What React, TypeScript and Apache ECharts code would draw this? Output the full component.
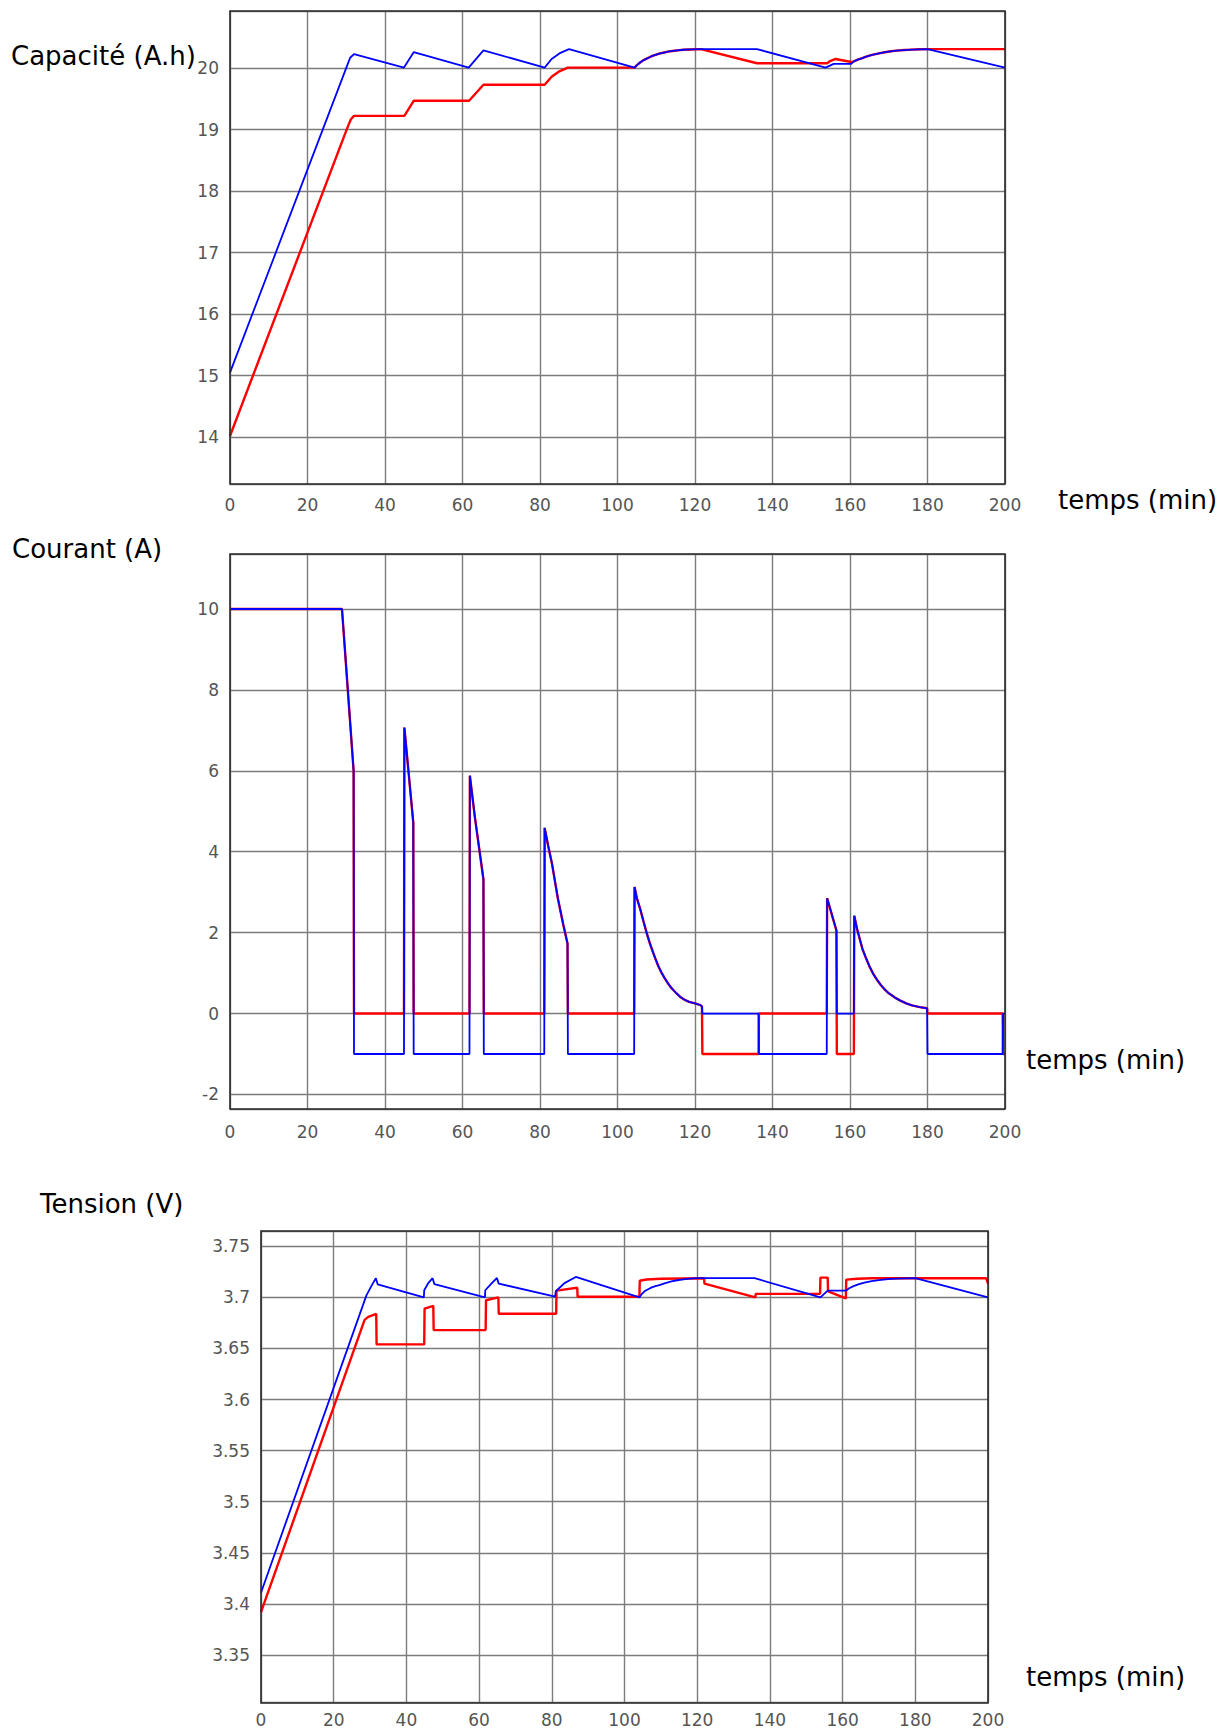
import React, { useEffect, useRef } from "react";
import * as echarts from "echarts";

// ---------- DATA (time in min, value) ----------
const xTicks = { min: 0, max: 200, step: 20 };

// Capacité (A.h)
const capRed: [number, number][] = [
  [0, 14.02], [30.4, 19.05], [31.2, 19.17], [32, 19.225], [45, 19.225], [47.4, 19.47],
  [61.7, 19.47], [65.4, 19.73], [81.2, 19.73], [83, 19.86], [85, 19.95], [87.2, 20.01],
  [104.4, 20.01], [105, 20.05], [106, 20.1], [107, 20.14], [108, 20.17], [109, 20.2],
  [110, 20.22], [111, 20.24], [112, 20.255], [113, 20.27], [114.2, 20.28], [115.5, 20.29],
  [117, 20.3], [119, 20.305], [121.5, 20.31], [136, 20.08], [154.1, 20.08], [155, 20.12],
  [156.3, 20.15], [160.3, 20.1], [161, 20.11], [162, 20.14], [163, 20.16], [164, 20.185],
  [165, 20.205], [166, 20.22], [167.5, 20.24], [169, 20.26], [170.5, 20.275], [172, 20.285],
  [174, 20.295], [176, 20.302], [178, 20.307], [180, 20.31], [200, 20.31],
];
const capBlue: [number, number][] = [
  [0, 15.05], [30.4, 20.07], [31, 20.17], [32, 20.23], [44.9, 20.01], [47.4, 20.26],
  [61.6, 20.01], [65.4, 20.29], [81.2, 20.01], [83, 20.15], [85, 20.24], [87.5, 20.31],
  [104.4, 20.01], [105, 20.05], [106, 20.1], [107, 20.14], [108, 20.17], [109, 20.2],
  [110, 20.22], [111, 20.24], [112, 20.255], [113, 20.27], [114.2, 20.28], [115.5, 20.29],
  [117, 20.3], [119, 20.305], [121.5, 20.31], [136, 20.31], [153.7, 20.01], [155.8, 20.07],
  [160.3, 20.07], [161, 20.11], [162, 20.14], [163, 20.16], [164, 20.185], [165, 20.205],
  [166, 20.22], [167.5, 20.24], [169, 20.26], [170.5, 20.275], [172, 20.285], [174, 20.295],
  [176, 20.302], [178, 20.307], [180, 20.31], [200, 20.01],
];
const capRange = { min: 13.24, max: 20.93, step: 1 };

// Courant (A)
const curRed: [number, number][] = [
  [0, 10], [28.9, 10], [30.4, 8.0], [31.9, 6.0], [32, 0], [44.9, 0], [45, 7.07], [46, 6.05],
  [47.3, 4.72], [47.4, 0], [61.8, 0], [61.9, 5.88], [63.2, 4.85], [65.4, 3.32], [65.5, 0],
  [81.1, 0], [81.2, 4.59], [82.1, 4.15], [83.1, 3.7], [84.6, 2.85], [86, 2.2], [87.1, 1.73],
  [87.2, 0], [104.3, 0], [104.4, 3.13], [105, 2.85], [105.9, 2.57], [106.7, 2.28],
  [107.5, 2.0], [108.3, 1.75], [109.1, 1.53], [109.8, 1.35], [110.5, 1.18], [111.3, 1.02],
  [112.2, 0.87], [113, 0.75], [114, 0.62], [115, 0.52], [116.3, 0.4], [117.3, 0.34],
  [118.5, 0.29], [120, 0.25], [121.4, 0.21], [121.8, 0.17], [121.9, -1], [136.4, -1],
  [136.5, 0], [154, 0], [154.1, 2.85], [156.5, 2.05], [156.6, -1], [161, -1], [161.1, 2.42],
  [161.8, 2.1], [162.5, 1.85], [163.2, 1.6], [164, 1.4], [165, 1.17], [166, 0.98], [167, 0.83],
  [168, 0.7], [169, 0.59], [170, 0.5], [171.5, 0.4], [173, 0.32], [174.5, 0.25], [176, 0.2],
  [178, 0.16], [179.9, 0.13], [180, 0], [199.4, 0], [199.5, -1], [200, -1],
];
const curBlue: [number, number][] = [
  [0, 10], [28.9, 10], [30.4, 8.0], [31.9, 6.0], [32, -1], [44.9, -1], [45, 7.07], [46, 6.05],
  [47.3, 4.72], [47.4, -1], [61.8, -1], [61.9, 5.88], [63.2, 4.85], [65.4, 3.32], [65.5, -1],
  [81.1, -1], [81.2, 4.59], [82.1, 4.15], [83.1, 3.7], [84.6, 2.85], [86, 2.2], [87.1, 1.73],
  [87.2, -1], [104.3, -1], [104.4, 3.13], [105, 2.85], [105.9, 2.57], [106.7, 2.28],
  [107.5, 2.0], [108.3, 1.75], [109.1, 1.53], [109.8, 1.35], [110.5, 1.18], [111.3, 1.02],
  [112.2, 0.87], [113, 0.75], [114, 0.62], [115, 0.52], [116.3, 0.4], [117.3, 0.34],
  [118.5, 0.29], [120, 0.25], [121.4, 0.21], [121.8, 0.17], [121.9, 0], [136.4, 0],
  [136.5, -1], [154, -1], [154.1, 2.85], [156.5, 2.05], [156.6, 0], [161, 0], [161.1, 2.42],
  [161.8, 2.1], [162.5, 1.85], [163.2, 1.6], [164, 1.4], [165, 1.17], [166, 0.98], [167, 0.83],
  [168, 0.7], [169, 0.59], [170, 0.5], [171.5, 0.4], [173, 0.32], [174.5, 0.25], [176, 0.2],
  [178, 0.16], [179.9, 0.13], [180, -1], [199.4, -1], [199.5, 0], [200, 0],
];
const curRange = { min: -2.36, max: 11.36, step: 2 };

// Tension (V)
const tenRed: [number, number][] = [
  [0, 3.392], [28.5, 3.678], [29.5, 3.681], [31.7, 3.684], [31.8, 3.654], [44.9, 3.654],
  [45, 3.689], [47.4, 3.6917], [47.5, 3.668], [61.8, 3.668], [61.9, 3.6972], [65.3, 3.7],
  [65.4, 3.684], [81.2, 3.684], [81.3, 3.7066], [87, 3.7094], [87.1, 3.7007], [104.1, 3.7007],
  [104.2, 3.7163], [106, 3.7175], [110, 3.7183], [121.9, 3.7188], [122, 3.7135], [136, 3.7],
  [136.1, 3.7035], [153.8, 3.7035], [153.9, 3.7194], [155.9, 3.7194], [156, 3.7059],
  [160.9, 3.699], [161, 3.7174], [164, 3.7182], [168, 3.7188], [199.5, 3.7188], [200, 3.7135],
];
const tenBlue: [number, number][] = [
  [0, 3.411], [29, 3.702], [30.5, 3.712], [31.6, 3.7188], [32.1, 3.7128], [44.8, 3.7],
  [44.9, 3.707], [46, 3.714], [47.2, 3.7188], [47.7, 3.713], [61.6, 3.7], [61.7, 3.707],
  [63.5, 3.714], [64.9, 3.719], [65.4, 3.7135], [80.9, 3.7007], [81.1, 3.706], [83.5, 3.714],
  [86.6, 3.72], [104.1, 3.7], [104.8, 3.7035], [105.5, 3.706], [106.5, 3.708], [107.5, 3.7098],
  [108.5, 3.711], [109.6, 3.712], [111, 3.7138], [112.9, 3.7156], [114.5, 3.7168],
  [116.2, 3.7177], [118, 3.7184], [120, 3.7188], [135.8, 3.7188], [153.9, 3.7],
  [155.9, 3.7066], [160.9, 3.7066], [161.8, 3.709], [163, 3.711], [164.5, 3.713],
  [166, 3.7145], [168, 3.716], [170, 3.717], [172.5, 3.7178], [175, 3.7184], [177.5, 3.7187],
  [180, 3.7188], [200, 3.7],
];
const tenRange = { min: 3.304, max: 3.765, step: 0.05 };

const yTitles = ["Capacité (A.h)", "Courant (A)", "Tension (V)"];
const xTitle = "temps (min)";

// ---------- LAYOUT ----------
const grids = [
  { left: 230, top: 11, width: 775, height: 473, xMargin: 12 },
  { left: 230, top: 554, width: 775, height: 555, xMargin: 14 },
  { left: 261, top: 1231, width: 727, height: 472, xMargin: 9 },
];
const titlePos = [
  { y: [11, 56], x: [1058, 500] },
  { y: [12, 549], x: [1026, 1060] },
  { y: [40, 1204], x: [1026, 1677] },
];

const RED = "#ff0000";
const BLUE = "#0000ff";
const GRID_COLOR = "#7c7c7c";
const LABEL_FONT = "DejaVu Sans";

export default function App() {
  const ref = useRef<HTMLDivElement>(null);
  useEffect(() => {
    if (!ref.current) return;
    const chart = echarts.init(ref.current, null, { renderer: "svg" });
    const ranges = [capRange, curRange, tenRange];
    const fmt = (v: number) => String(+v.toFixed(2));

    const xAxis = grids.map((g, i) => ({
      gridIndex: i,
      type: "value",
      min: xTicks.min,
      max: xTicks.max,
      interval: xTicks.step,
      axisLine: { show: false },
      axisTick: { show: false },
      splitLine: { show: true, lineStyle: { color: GRID_COLOR, width: 1.4 } },
      axisLabel: { color: "#555", fontFamily: LABEL_FONT, fontSize: 17, margin: g.xMargin },
    }));
    const yAxis = ranges.map((r, i) => ({
      gridIndex: i,
      type: "value",
      min: r.min,
      max: r.max,
      minInterval: r.step,
      maxInterval: r.step,
      axisLine: { show: false },
      axisTick: { show: false },
      splitLine: { show: true, lineStyle: { color: GRID_COLOR, width: 1.4 } },
      axisLabel: {
        color: "#555",
        fontFamily: LABEL_FONT,
        fontSize: 17,
        margin: 11,
        showMinLabel: false,
        showMaxLabel: false,
        formatter: fmt,
      },
    }));

    const mk = (data: [number, number][], idx: number, color: string, width: number) => ({
      type: "line",
      xAxisIndex: idx,
      yAxisIndex: idx,
      data,
      showSymbol: false,
      symbol: "none",
      silent: true,
      lineStyle: { color, width },
      z: color === BLUE ? 3 : 2,
    });

    const series = [
      mk(capRed, 0, RED, 2.4), mk(capBlue, 0, BLUE, 1.8),
      mk(curRed, 1, RED, 2.4), mk(curBlue, 1, BLUE, 1.8),
      mk(tenRed, 2, RED, 2.4), mk(tenBlue, 2, BLUE, 1.8),
    ];

    const graphic: any[] = [];
    grids.forEach((g) => {
      graphic.push({
        type: "rect",
        shape: { x: g.left, y: g.top, width: g.width, height: g.height },
        style: { fill: "none", stroke: "#2a2a2a", lineWidth: 1.6 },
        z: 100,
        silent: true,
      });
    });
    titlePos.forEach((p, i) => {
      graphic.push({
        type: "text",
        x: p.y[0],
        y: p.y[1],
        style: { text: yTitles[i], fontFamily: "DejaVu Sans", fontSize: 26, fill: "#000", textVerticalAlign: "middle", verticalAlign: "middle" },
        z: 101,
      });
      graphic.push({
        type: "text",
        x: p.x[0],
        y: p.x[1],
        style: { text: xTitle, fontFamily: "DejaVu Sans", fontSize: 26, fill: "#000", textVerticalAlign: "middle", verticalAlign: "middle" },
        z: 101,
      });
    });

    chart.setOption({
      animation: false,
      backgroundColor: "#ffffff",
      grid: grids.map((g) => ({ left: g.left, top: g.top, width: g.width, height: g.height, containLabel: false })),
      xAxis,
      yAxis,
      series,
      graphic,
    });
    return () => chart.dispose();
  }, []);
  return (
    <div
      ref={ref}
      style={{ position: "absolute", left: 0, top: 0, width: 1228, height: 1728, background: "#fff" }}
    />
  );
}
